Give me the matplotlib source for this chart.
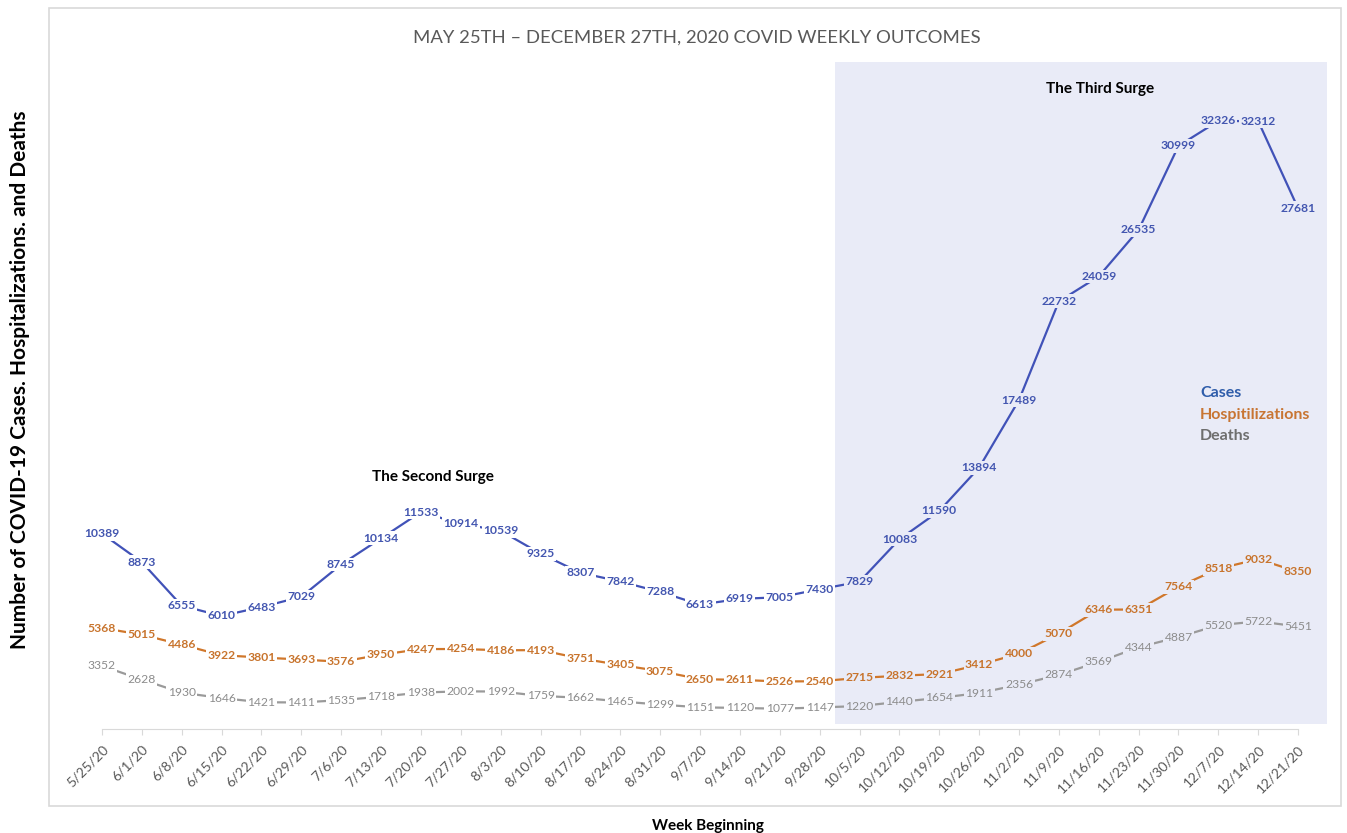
import matplotlib.pyplot as plt
import matplotlib.patches as patches

weeks = ['5/25/20', '6/1/20', '6/8/20', '6/15/20', '6/22/20', '6/29/20', '7/6/20', '7/13/20',
         '7/20/20', '7/27/20', '8/3/20', '8/10/20', '8/17/20', '8/24/20', '8/31/20', '9/7/20',
         '9/14/20', '9/21/20', '9/28/20', '10/5/20', '10/12/20', '10/19/20', '10/26/20', '11/2/20',
         '11/9/20', '11/16/20', '11/23/20', '11/30/20', '12/7/20', '12/14/20', '12/21/20']

cases = [10389, 8873, 6555, 6010, 6483, 7029, 8745, 10134, 11533, 10914, 10539, 9325, 8307, 7842,
         7288, 6613, 6919, 7005, 7430, 7829, 10083, 11590, 13894, 17489, 22732, 24059, 26535,
         30999, 32326, 32312, 27681]
hospitalizations = [5368, 5015, 4486, 3922, 3801, 3693, 3576, 3950, 4247, 4254, 4186, 4193, 3751,
                    3405, 3075, 2650, 2611, 2526, 2540, 2715, 2832, 2921, 3412, 4000, 5070, 6346,
                    6351, 7564, 8518, 9032, 8350]
deaths = [3352, 2628, 1930, 1646, 1421, 1411, 1535, 1718, 1938, 2002, 1992, 1759, 1662, 1465, 1299,
          1151, 1120, 1077, 1147, 1220, 1440, 1654, 1911, 2356, 2874, 3569, 4344, 4887, 5520, 5722,
          5451]

# third surge shading (in week index units)
surge_start = 18.38
surge_end = 30.72

plt.rcParams['font.family'] = ['Lato', 'DejaVu Sans']

shade = '#E9EBF7'
fig = plt.figure(figsize=(13.47, 8.33), dpi=100)
W, H = 1347, 833

# axes placed in pixels: left 80, right 1330, top 62, bottom 729
ax = fig.add_axes([80 / W, (H - 729) / H, 1250 / W, 667 / H])
x = list(range(len(weeks)))
ax.set_xlim(-0.55, 30.8)
ax.set_ylim(0, 35460)

ax.axvspan(surge_start, surge_end, ymin=0.008, ymax=1, color=shade, zorder=0, lw=0)

series = [
    (cases, '#4152B8', '#4356B0', 'bold'),
    (hospitalizations, '#D0772B', '#C8742D', 'bold'),
    (deaths, '#9A9A9A', '#8C8C8C', 'normal'),
]
for vals, lc, tc, fw in series:
    ax.plot(x, vals, color=lc, lw=1.6, zorder=2, solid_capstyle='butt')
    for i, v in enumerate(vals):
        bg = shade if surge_start < i < surge_end else 'white'
        ax.text(i, v, str(v), ha='center', va='center', fontsize=8.7, color=tc, fontweight=fw,
                zorder=3, bbox=dict(boxstyle='square,pad=0.12', fc=bg, ec='none'))

ax.text(8.3, 13400, 'The Second Surge', ha='center', va='center', fontsize=11, fontweight='bold')
ax.text(25.03, 34020, 'The Third Surge', ha='center', va='center', fontsize=11, fontweight='bold')

ax.set_xticks(x)
ax.set_xticklabels(weeks, rotation=45, ha='right', rotation_mode='anchor', fontsize=10,
                   color='#595959')
ax.tick_params(axis='x', length=4, color='#D9D9D9', pad=6)
ax.set_yticks([])
for s in ['top', 'left', 'right']:
    ax.spines[s].set_visible(False)
ax.spines['bottom'].set_color('#D9D9D9')
ax.spines['bottom'].set_bounds(0, 30)
ax.set_facecolor('none')

# legend as coloured text
fig.text(1200 / W, 1 - 393 / H, 'Cases', color='#2F5DAA', fontsize=11.5, fontweight='bold', va='center')
fig.text(1200 / W, 1 - 415 / H, 'Hospitilizations', color='#C87533', fontsize=11.5, fontweight='bold', va='center')
fig.text(1200 / W, 1 - 436 / H, 'Deaths', color='#6E6E6E', fontsize=11.5, fontweight='bold', va='center')

fig.text(697 / W, 1 - 38 / H, 'MAY 25TH \u2013 DECEMBER 27TH, 2020 COVID WEEKLY OUTCOMES',
         ha='center', va='center', fontsize=13.3, color='#595959')
fig.text(20 / W, 1 - 380 / H, 'Number of COVID-19 Cases. Hospitalizations. and Deaths', rotation=90,
         ha='center', va='center', fontsize=15, fontweight='bold')
fig.text(708 / W, 1 - 826 / H, 'Week Beginning', ha='center', va='center', fontsize=11, fontweight='bold')

# chart border
fig.patches.append(patches.Rectangle((49 / W, 1 - 806 / H), 1292 / W, 798 / H, transform=fig.transFigure,
                                     fill=False, ec='#D9D9D9', lw=1.2))

fig.savefig('out.png', dpi=100)
